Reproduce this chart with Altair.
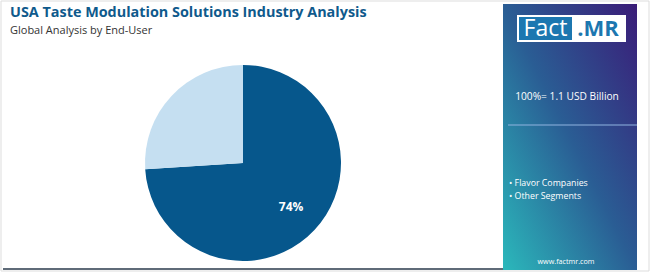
import altair as alt
import pandas as pd

categories = ["Flavor Companies", "Other Segments"]
shares = [74, 26]
slice_colors = ["#06578c", "#c5dff1"]

title = "USA Taste Modulation Solutions Industry Analysis"
subtitle = "Global Analysis by End-User"
total_label = "100%= 1.1 USD Billion"
site = "www.factmr.com"

df = pd.DataFrame({"cat": categories, "share": shares, "idx": list(range(len(categories)))})

W, H = 650, 272

def txt(text, x, y, size, color, weight="normal", align="left", font="Open Sans", baseline="middle"):
    return alt.Chart(pd.DataFrame({"t": [text]})).mark_text(
        align=align, baseline=baseline, fontSize=size, color=color, fontWeight=weight, font=font
    ).encode(x=alt.value(x), y=alt.value(y), text="t:N")

def rect(x, x2, y, y2, color, **kw):
    return alt.Chart(pd.DataFrame({"a": [0]})).mark_rect(color=color, **kw).encode(
        x=alt.value(x), x2=alt.value(x2), y=alt.value(y), y2=alt.value(y2)
    )

border = rect(1, 649, 1, 271, "white", stroke="#dddddd", strokeWidth=1)
bottom = rect(3, 503, 268, 270, "#5f6b78")

panel = alt.Chart(pd.DataFrame({"a": [0]})).mark_rect(
    color=alt.LinearGradient(
        gradient="linear", x1=1, y1=0, x2=0, y2=1,
        stops=[alt.GradientStop(color="#3a1c78", offset=0),
               alt.GradientStop(color="#2a5d94", offset=0.5),
               alt.GradientStop(color="#2bb8bb", offset=1)],
    )
).encode(x=alt.value(503), x2=alt.value(637), y=alt.value(4), y2=alt.value(270))

hline = alt.Chart(pd.DataFrame({"a": [0]})).mark_rule(
    color=alt.LinearGradient(
        gradient="linear", x1=0, y1=0, x2=1, y2=0,
        stops=[alt.GradientStop(color="#4aa0c8", offset=0),
               alt.GradientStop(color="#8dbfdc", offset=1)],
    ), strokeWidth=1.5
).encode(x=alt.value(5), x2=alt.value(503), y=alt.value(53))

pline = alt.Chart(pd.DataFrame({"a": [0]})).mark_rule(color="#8fb3e0", strokeWidth=1.2).encode(
    x=alt.value(508), x2=alt.value(637), y=alt.value(125)
)

logo_bg = rect(517, 626, 15, 42, "white")
logo_blue = rect(519, 572, 17, 40, "#1c77b0")
logo_fact = txt("Fact", 545.5, 29, 23, "white", align="center", font="Open Sans")
logo_mr = txt(".MR", 598, 29, 22, "#1c77b0", weight="bold", align="center", font="Open Sans")

base = alt.Chart(df).transform_calculate(
    label="datum.share >= 50 ? datum.share + '%' : ''"
).encode(
    theta=alt.Theta("share:Q", stack=True),
    order=alt.Order("idx:Q"),
)
pie = base.mark_arc(outerRadius=98).encode(
    color=alt.Color("cat:N", scale=alt.Scale(domain=categories, range=slice_colors), legend=None),
    x=alt.value(243), y=alt.value(163),
)
pie_lbl = base.mark_text(radius=66, fontSize=12, fontWeight="bold", color="white", font="Open Sans").encode(
    text="label:N", x=alt.value(243), y=alt.value(162),
)

legend = alt.Chart(df).transform_calculate(
    t="'• ' + datum.cat"
).mark_text(align="left", baseline="middle", fontSize=8.8, color="white", font="Open Sans").encode(
    x=alt.value(509),
    y=alt.Y("idx:Q", scale=alt.Scale(domain=[0, 1], range=[183, 196]), axis=None),
    text="t:N",
)

layers = [
    border, bottom, panel, hline, pline, logo_bg, logo_blue, logo_fact, logo_mr,
    txt(title, 10, 13, 14.4, "#0f5a8c", weight="bold", font="Open Sans"),
    txt(subtitle, 10, 31, 11, "#333333"),
    txt(total_label, 567, 97, 10.2, "white", align="center"),
    txt(site, 566, 262, 7.2, "white", align="center"),
    pie, pie_lbl, legend,
]

chart = alt.layer(*layers).properties(
    width=W, height=H, padding=0, autosize=alt.AutoSizeParams(type="none")
).configure_view(stroke=None)

chart.save("out.html", embed_options={"renderer": "svg", "actions": False})
